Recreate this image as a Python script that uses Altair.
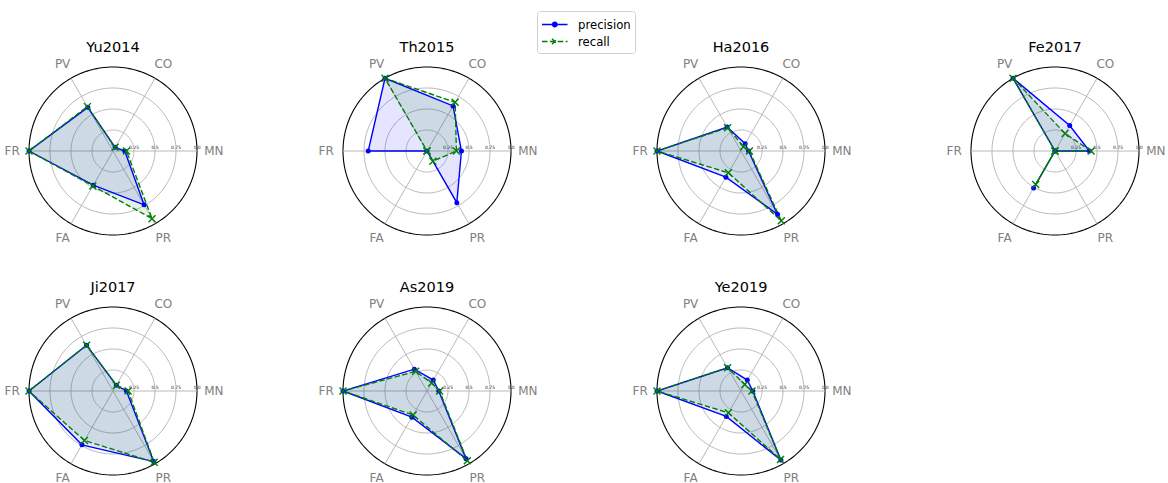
import altair as alt
import pandas as pd

# ---------------- data ----------------
papers = ["Yu2014", "Th2015", "Ha2016", "Fe2017", "Ji2017", "As2019", "Ye2019"]
categories = ["MN", "CO", "PV", "FR", "FA", "PR"]
series_names = ["precision", "recall"]

precision = {
    "Yu2014": [0.14, 0.05, 0.60, 1.00, 0.47, 0.74],
    "Th2015": [0.41, 0.62, 1.00, 0.70, 0.00, 0.71],
    "Ha2016": [0.09, 0.10, 0.33, 1.00, 0.36, 0.87],
    "Fe2017": [0.41, 0.35, 1.00, 0.00, 0.51, 0.00],
    "Ji2017": [0.16, 0.08, 0.63, 1.00, 0.74, 0.97],
    "As2019": [0.14, 0.15, 0.30, 1.00, 0.36, 0.93],
    "Ye2019": [0.14, 0.15, 0.32, 1.00, 0.35, 0.95],
}
recall = {
    "Yu2014": [0.16, 0.05, 0.61, 1.00, 0.48, 0.93],
    "Th2015": [0.35, 0.67, 1.00, 0.00, 0.00, 0.14],
    "Ha2016": [0.10, 0.06, 0.32, 1.00, 0.30, 0.96],
    "Fe2017": [0.43, 0.24, 1.00, 0.00, 0.46, 0.00],
    "Ji2017": [0.18, 0.08, 0.63, 1.00, 0.68, 0.98],
    "As2019": [0.15, 0.11, 0.27, 1.00, 0.33, 0.96],
    "Ye2019": [0.13, 0.09, 0.32, 1.00, 0.30, 0.94],
}
radial_ticks = [0.25, 0.5, 0.75, 1.0]
radial_tick_labels = ["0.25", "0.5", "0.75", "1.0"]

# ---------------- tables ----------------
rows = []
for p in papers:
    for s, src in (("precision", precision), ("recall", recall)):
        vals = src[p]
        for k in range(len(categories) + 1):  # close the polygon
            rows.append({"paper": p, "series": s, "k": k,
                         "axis": categories[k % len(categories)],
                         "r": vals[k % len(categories)]})
df_series = pd.DataFrame(rows)

df_grid = pd.DataFrame([{"r": r, "deg": d} for r in radial_ticks for d in range(0, 361, 2)])
df_spokes = pd.DataFrame([{"k": k, "r": r} for k in range(len(categories)) for r in (0.0, 1.0)])
df_ticks = pd.DataFrame({"r": radial_ticks, "label": radial_tick_labels, "k": 0})
df_cats = pd.DataFrame({"k": list(range(len(categories))), "label": categories, "r": 1.2})
df_legend = pd.DataFrame({"series": series_names})

# ---------------- layout / style ----------------
PX = 84.0          # pixels per unit radius
W, H = 226, 207
TOP, BOT = 114, 93
BLUE, GREEN = "#0000ff", "#008000"
GRID = "#b0b0b0"
FONT = "DejaVu Sans"
XPATH = "M-1,-1L1,1M-1,1L1,-1"
DASH = [5.5, 2.4]
LEG_P = "M-1,0L2,0M0.235,0A0.265,0.265,0,1,0,0.765,0A0.265,0.265,0,1,0,0.235,0Z"
LEG_R = "M-1,0L2,0M0.18,-0.32L0.82,0.32M0.18,0.32L0.82,-0.32"

xs = alt.Scale(domain=[-W / 2 / PX, W / 2 / PX], nice=False, zero=False)
ys = alt.Scale(domain=[-BOT / PX, TOP / PX], nice=False, zero=False)
X = alt.X("x:Q", scale=xs, axis=None)
Y = alt.Y("y:Q", scale=ys, axis=None)
PX_CALC = "datum.r * cos(datum.k * PI / 3)"
PY_CALC = "datum.r * sin(datum.k * PI / 3)"


def panel(p, with_legend=False):
    d = df_series[df_series["paper"] == p]
    base_s = alt.Chart(d).transform_calculate(x=PX_CALC, y=PY_CALC)

    grid_inner = (alt.Chart(df_grid).transform_filter("datum.r < 1")
                  .transform_calculate(x="datum.r * cos(datum.deg * PI / 180)",
                                       y="datum.r * sin(datum.deg * PI / 180)")
                  .mark_line(color=GRID, strokeWidth=0.9)
                  .encode(X, Y, detail="r:N", order="deg:Q"))
    grid_outer = (alt.Chart(df_grid).transform_filter("datum.r >= 1")
                  .transform_calculate(x="datum.r * cos(datum.deg * PI / 180)",
                                       y="datum.r * sin(datum.deg * PI / 180)")
                  .mark_line(color="black", strokeWidth=1.1)
                  .encode(X, Y, detail="r:N", order="deg:Q"))
    spokes = (alt.Chart(df_spokes).transform_calculate(x=PX_CALC, y=PY_CALC)
              .mark_line(color=GRID, strokeWidth=0.9)
              .encode(X, Y, detail="k:N", order="r:Q"))
    ticks = (alt.Chart(df_ticks).transform_calculate(x=PX_CALC, y=PY_CALC)
             .mark_text(fontSize=4.5, font=FONT, color="#222222", dy=-3, align="center")
             .encode(X, Y, text="label:N"))
    layers = [grid_inner, grid_outer, spokes, ticks]
    for s, col in (("precision", BLUE), ("recall", GREEN)):
        layers.append(base_s.transform_filter(f"datum.series === '{s}'")
                      .mark_line(fill=col, fillOpacity=0.1, strokeOpacity=0)
                      .encode(X, Y, order="k:Q"))
    layers.append(base_s.transform_filter("datum.series === 'precision'")
                  .mark_line(color=BLUE, strokeWidth=1.4).encode(X, Y, order="k:Q"))
    layers.append(base_s.transform_filter("datum.series === 'recall'")
                  .mark_line(color=GREEN, strokeWidth=1.4, strokeDash=DASH).encode(X, Y, order="k:Q"))
    layers.append(base_s.transform_filter("datum.series === 'precision' && datum.k < 6")
                  .mark_point(shape="circle", filled=True, size=25, color=BLUE, opacity=1)
                  .encode(X, Y))
    layers.append(base_s.transform_filter("datum.series === 'recall' && datum.k < 6")
                  .mark_point(shape=XPATH, filled=False, size=49, color=GREEN, strokeWidth=1.4, opacity=1)
                  .encode(X, Y))
    layers.append(alt.Chart(df_cats).transform_calculate(x=PX_CALC, y=PY_CALC)
                  .mark_text(fontSize=12, font=FONT, color="#808080", align="center", baseline="middle")
                  .encode(X, Y, text="label:N"))
    layers.append(alt.Chart(pd.DataFrame({"label": [p], "r": [1.225], "k": [1.5]}))
                  .transform_calculate(x=PX_CALC, y=PY_CALC)
                  .mark_text(fontSize=14.5, font=FONT, color="black", align="center", baseline="middle")
                  .encode(X, Y, text="label:N"))
    if with_legend:
        # legend-only layer: explicit scale domains, no marks drawn
        layers.append(alt.Chart(df_legend).transform_filter("false")
                      .mark_point(filled=True, strokeWidth=1.4, opacity=1)
                      .encode(
                          X, Y,
                          color=alt.Color("series:N", title=None,
                                          scale=alt.Scale(domain=series_names, range=[BLUE, GREEN])),
                          stroke=alt.Stroke("series:N", title=None,
                                            scale=alt.Scale(domain=series_names, range=[BLUE, GREEN])),
                          shape=alt.Shape("series:N", title=None,
                                          scale=alt.Scale(domain=series_names, range=[LEG_P, LEG_R])),
                          strokeDash=alt.StrokeDash("series:N", title=None,
                                                    scale=alt.Scale(domain=series_names,
                                                                    range=[[1, 0], DASH])),
                      ))
    return alt.layer(*layers).properties(width=W, height=H)


chart = (
    alt.concat(*[panel(p, with_legend=(i == 0)) for i, p in enumerate(papers)], columns=4,
               spacing=alt.RowColnumber(row=33, column=88), bounds="flush")
    .properties(padding={"left": 0, "top": 10, "right": 0, "bottom": 0})
    .configure_view(stroke=None)
    .configure_legend(orient="none", legendX=537, legendY=-26, fillColor="white",
                      strokeColor="#d0d0d0", cornerRadius=3, padding=4,
                      labelFontSize=11.7, labelFont=FONT, labelColor="black",
                      symbolStrokeWidth=1.4, symbolSize=289, rowPadding=0, labelOffset=18)
)

chart.save("out.html", embed_options={"renderer": "svg", "actions": False})
